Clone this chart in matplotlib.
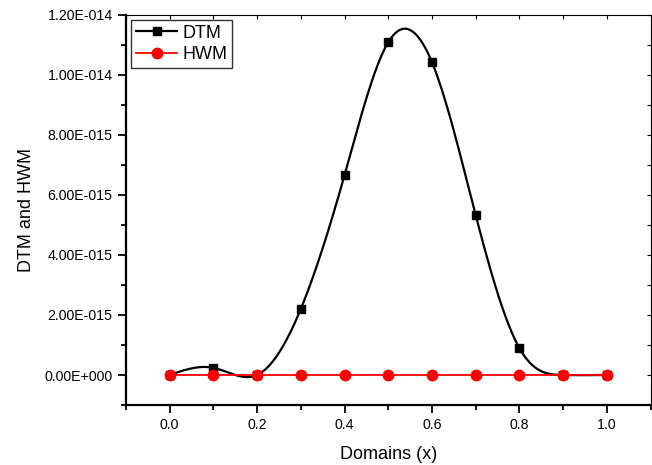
import numpy as np
import matplotlib
matplotlib.use('Agg')
import matplotlib.pyplot as plt
from matplotlib.ticker import MultipleLocator, FuncFormatter

x = [0.0, 0.1, 0.2, 0.3, 0.4, 0.5, 0.6, 0.7, 0.8, 0.9, 1.0]
dtm = [0.0, 2.4e-16, 0.0, 2.2e-15, 6.66e-15, 1.109e-14, 1.042e-14, 5.32e-15, 8.9e-16, 0.0, 0.0]
hwm = [0.0, 0.0, 0.0, 0.0, 0.0, 0.0, 0.0, 0.0, 0.0, 0.0, 0.0]

XMIN, XMAX = -0.1, 1.1
YMIN, YMAX = -1e-15, 1.2e-14

plt.rcParams['font.family'] = ['Liberation Sans', 'DejaVu Sans']


def natural_spline(xs, ys, n=400):
	xs = np.asarray(xs, float)
	ys = np.asarray(ys, float)
	k = len(xs)
	h = np.diff(xs)
	A = np.zeros((k, k))
	b = np.zeros(k)
	A[0, 0] = 1
	A[-1, -1] = 1
	for i in range(1, k - 1):
		A[i, i - 1] = h[i - 1]
		A[i, i] = 2 * (h[i - 1] + h[i])
		A[i, i + 1] = h[i]
		b[i] = 3 * ((ys[i + 1] - ys[i]) / h[i] - (ys[i] - ys[i - 1]) / h[i - 1])
	c = np.linalg.solve(A, b)
	xx = np.linspace(xs[0], xs[-1], n)
	yy = np.zeros_like(xx)
	for j, t in enumerate(xx):
		i = min(np.searchsorted(xs, t, side='right') - 1, k - 2)
		d = t - xs[i]
		bi = (ys[i + 1] - ys[i]) / h[i] - h[i] * (2 * c[i] + c[i + 1]) / 3
		di = (c[i + 1] - c[i]) / (3 * h[i])
		yy[j] = ys[i] + bi * d + c[i] * d ** 2 + di * d ** 3
	return xx, yy


def sci_fmt(v, pos):
	# Origin style labels, e.g. 1.20E-014
	if v < YMIN * 1.001 or v > YMAX * 1.001:
		return ""
	if abs(v) < 1e-30:
		return "0.00E+000"
	e = int(np.floor(np.log10(abs(v))))
	m = v / 10 ** e
	return "%.2fE%s%03d" % (m, '-' if e < 0 else '+', abs(e))


def x_fmt(v, pos):
	if v < XMIN - 1e-9 or v > XMAX + 1e-9:
		return ""
	return "%.1f" % v


fig = plt.figure(figsize=(6.52, 4.65), dpi=100)
ax = fig.add_axes([0.193, 0.129, 0.805, 0.839])

sx, sy = natural_spline(x, dtm)
ax.plot(sx, sy, color='black', lw=1.6)
ax.plot(x, dtm, 's', color='black', ms=6)
hx, hy = natural_spline(x, hwm)
ax.plot(hx, hy, color='red', lw=1.3)
ax.plot(x, hwm, 'o', color='red', ms=7.5)

# legend proxies
ax.plot([], [], '-s', color='black', lw=1.6, ms=6, label='DTM')
ax.plot([], [], '-o', color='red', lw=1.3, ms=7.5, label='HWM')
leg = ax.legend(loc='upper left', fontsize=13, frameon=True, fancybox=False,
				edgecolor='black', borderpad=0.25, handlelength=2.3,
				labelspacing=0.25, handletextpad=0.3, borderaxespad=0.3)
leg.get_frame().set_linewidth(1.0)

ax.set_xlim(XMIN, XMAX)
ax.set_ylim(YMIN, YMAX)
ax.xaxis.set_major_locator(MultipleLocator(0.2))
ax.xaxis.set_minor_locator(MultipleLocator(0.1))
ax.yaxis.set_major_locator(MultipleLocator(2e-15))
ax.yaxis.set_minor_locator(MultipleLocator(1e-15))
ax.xaxis.set_major_formatter(FuncFormatter(x_fmt))
ax.yaxis.set_major_formatter(FuncFormatter(sci_fmt))

ax.tick_params(which='both', direction='out', labelsize=10.2, width=1.3,
			   top=False, right=False)
ax.tick_params(which='major', length=6)
ax.tick_params(which='minor', length=3.5)

ax.spines['left'].set_linewidth(1.6)
ax.spines['bottom'].set_linewidth(1.6)
ax.spines['top'].set_linewidth(0.8)
ax.spines['right'].set_linewidth(0.8)

# inward ticks on top and right
top = ax.secondary_xaxis('top')
top.xaxis.set_major_locator(MultipleLocator(0.1))
top.xaxis.set_major_formatter(FuncFormatter(lambda v, p: ""))
top.tick_params(direction='in', length=3, width=0.8, labeltop=False)
top.spines['top'].set_visible(False)
right = ax.secondary_yaxis('right')
right.yaxis.set_major_locator(MultipleLocator(1e-15))
right.yaxis.set_major_formatter(FuncFormatter(lambda v, p: ""))
right.tick_params(direction='in', length=3, width=0.8, labelright=False)
right.spines['right'].set_visible(False)

ax.set_xlabel("Domains (x)", fontsize=13, labelpad=10)
ax.set_ylabel("DTM and HWM", fontsize=13, labelpad=7)

fig.savefig("out.png", dpi=100)
